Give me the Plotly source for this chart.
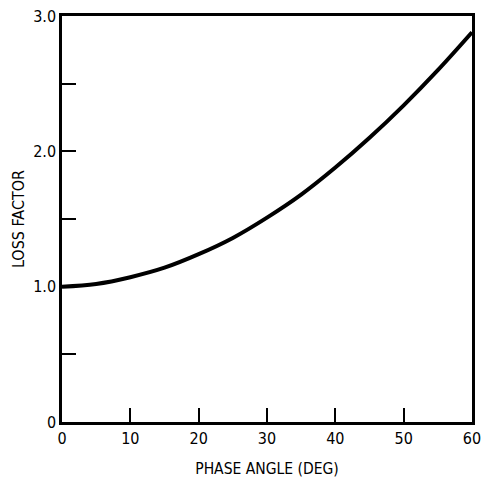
import plotly.graph_objects as go

phase_angle = [0, 5, 10, 15, 20, 25, 30, 35, 40, 45, 50, 55, 60]
loss_factor = [1.0, 1.02, 1.07, 1.14, 1.24, 1.36, 1.51, 1.68, 1.88, 2.1, 2.34, 2.6, 2.88]

x_tickvals = [0, 10, 20, 30, 40, 50, 60]
x_ticktext = ["0", "10", "20", "30", "40", "50", "60"]
y_tickvals = [0, 0.5, 1.0, 1.5, 2.0, 2.5, 3.0]
y_ticktext = ["0", "", "1.0", "", "2.0", "", "3.0"]

font_family = "DejaVu Sans Condensed"

fig = go.Figure()
fig.add_trace(go.Scatter(
    x=phase_angle, y=loss_factor, mode="lines",
    line=dict(color="black", width=4, shape="spline", smoothing=1.0),
    showlegend=False,
))

fig.update_layout(
    width=482, height=479,
    margin=dict(l=62, r=10, t=16, b=57),
    paper_bgcolor="white", plot_bgcolor="white",
    font=dict(family=font_family, color="black", size=16),
    xaxis=dict(
        range=[0, 60], tickvals=x_tickvals, ticktext=x_ticktext,
        ticks="inside", ticklen=14, tickwidth=1.5, tickcolor="black",
        showline=True, linewidth=2.5, linecolor="black", mirror=True,
        showgrid=False, zeroline=False, automargin=False,
        title=dict(text="PHASE ANGLE (DEG)", standoff=17, font=dict(size=15.5)),
        tickfont=dict(size=16),
    ),
    yaxis=dict(
        range=[0, 3.0], tickvals=y_tickvals, ticktext=y_ticktext,
        ticks="inside", ticklen=14, tickwidth=1.5, tickcolor="black",
        showline=True, linewidth=2.5, linecolor="black", mirror=True,
        showgrid=False, zeroline=False, automargin=False,
        title=dict(text="LOSS FACTOR", standoff=5, font=dict(size=16)),
        tickfont=dict(size=16),
    ),
)

fig.write_html("out.html")
